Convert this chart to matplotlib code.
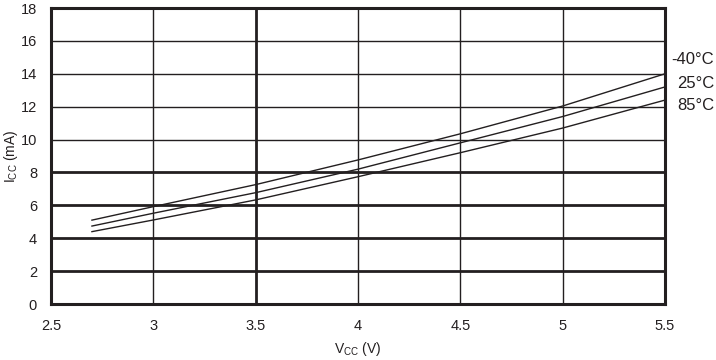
import numpy as np
import matplotlib
matplotlib.use('Agg')
import matplotlib.pyplot as plt

plt.rcParams['font.family'] = ['Liberation Sans', 'DejaVu Sans']
plt.rcParams['mathtext.default'] = 'regular'

# supply voltage (V)
vcc = [2.7, 3.0, 3.5, 4.0, 4.5, 5.0, 5.5]
# supply current (mA) per temperature
icc_m40 = [5.1, 5.92, 7.26, 8.76, 10.35, 12.04, 14.0]
icc_25 = [4.74, 5.52, 6.77, 8.2, 9.8, 11.4, 13.2]
icc_85 = [4.4, 5.11, 6.33, 7.74, 9.2, 10.7, 12.4]
temps = ['-40°C', '25°C', '85°C']

xticks = [2.5, 3, 3.5, 4, 4.5, 5, 5.5]
yticks = list(range(0, 19, 2))
thick_x = [3.5]
thick_y = [2, 4, 6, 8]

ink = '#231f20'

fig = plt.figure(figsize=(7.16, 3.6), dpi=100)
ax = fig.add_axes([51/716, 1 - 304/360, 614/716, 296/360])

# grid, some lines heavier
for x in xticks[1:-1]:
    ax.axvline(x, color=ink, lw=2.0 if x in thick_x else 1.0, zorder=1)
for y in yticks[1:-1]:
    ax.axhline(y, color=ink, lw=2.0 if y in thick_y else 1.0, zorder=1)

for ys in (icc_m40, icc_25, icc_85):
    ax.plot(vcc, ys, color=ink, lw=1.0, zorder=2)

ax.set_xlim(2.5, 5.5)
ax.set_ylim(0, 18)
ax.set_xticks(xticks)
ax.set_xticklabels(['2.5', '3', '3.5', '4', '4.5', '5', '5.5'])
ax.set_yticks(yticks)
ax.tick_params(length=0, labelsize=10.5, colors=ink)
ax.tick_params(axis='x', pad=11)
ax.tick_params(axis='y', pad=10)
for s in ax.spines.values():
    s.set_linewidth(2.2)
    s.set_color(ink)

fig.text(358/716, 1 - 349/360, 'V$_{CC}$ (V)', ha='center', va='center', fontsize=10, color=ink)
fig.text(11/716, 1 - 156/360, 'I$_{CC}$ (mA)', ha='center', va='center', rotation=90, fontsize=10, color=ink)

# temperature labels at the right end
label_y = [60, 83, 105]
for t, py in zip(temps, label_y):
    fig.text(714/716, 1 - py/360, t, ha='right', va='center', fontsize=12, color=ink)

fig.savefig('out.png', dpi=100)
